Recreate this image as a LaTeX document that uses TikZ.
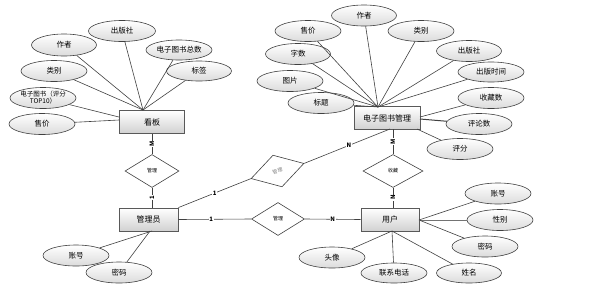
\documentclass[tikz,border=0pt]{standalone}
\usepackage{fontspec}
\setmainfont{Noto Sans CJK SC}
\usetikzlibrary{shapes.geometric}
\begin{document}
\begin{tikzpicture}[x=1pt,y=-1pt,
 attr/.style={ellipse,draw=black!75,line width=0.6pt,top color=white,bottom color=black!14,minimum width=66pt,minimum height=21pt,inner sep=0pt,font=\fontsize{7.5}{8}\selectfont},
 ent/.style={rectangle,draw=black!65,line width=0.9pt,top color=white,bottom color=black!18,minimum height=23pt,inner sep=0pt,font=\fontsize{8}{9}\selectfont},
 rel/.style={diamond,draw=black!75,line width=0.6pt,fill=white,inner sep=0pt,font=\fontsize{5}{6}\selectfont},
 lnk/.style={draw=black!75,line width=0.6pt},
 card/.style={fill=white,inner sep=0.6pt,font=\fontsize{6}{6}\selectfont\bfseries},
]
\useasboundingbox (0,0) rectangle (607,287);
% entities
\node[ent,minimum width=65pt] (kb) at (152,122) {看板};
\node[ent,minimum width=66pt] (bm) at (387,118) {电子图书管理};
\node[ent,minimum width=59pt] (adm) at (148.5,219.5) {管理员};
\node[ent,minimum width=58pt] (usr) at (390,219.5) {用户};
% relations
\node[rel,minimum width=54pt,minimum height=33pt] (r1) at (152,171) {管理};
\node[rel,minimum width=55pt,minimum height=33pt,rotate=16,text=black!50] (r2) at (277.5,171) {管理};
\node[rel,minimum width=53pt,minimum height=33pt] (r3) at (278,219) {管理};
\node[rel,minimum width=60pt,minimum height=33pt] (r4) at (393,171) {收藏};
% convergence points
\coordinate (kbt) at (143,110);
\coordinate (kbl1) at (119,117);
\coordinate (kbl2) at (119,120);
\coordinate (bmt) at (378,107);
\coordinate (bmr1) at (420,117);
\coordinate (bmr2) at (420,119);
\coordinate (bmr3) at (417,129);
\coordinate (bmb) at (390,129);
\coordinate (bmb2) at (393,129);
\coordinate (usr1) at (419,220);
\coordinate (usb) at (392,231);
\coordinate (adb1) at (152,231);
\coordinate (adb2) at (150,231);
\coordinate (r1b) at (152,208);
% kanban attributes
\node[attr,minimum width=65pt,minimum height=22pt] (k1) at (64,45) {作者};
\node[attr,minimum width=67pt] (k2) at (122,31) {出版社};
\node[attr,minimum height=20pt] (k3) at (179,50) {电子图书总数};
\node[attr,minimum width=65pt,minimum height=20pt] (k4) at (199,71) {标签};
\node[attr] (k5) at (54,71) {类别};
\node[attr,align=center,font=\fontsize{6.5}{7}\selectfont] (k6) at (43,98) {电子图书（评分\\TOP10）};
\node[attr] (k7) at (42,124) {售价};
% book management attributes
\node[attr] (b1) at (308,31) {售价};
\node[attr,minimum width=65pt] (b2) at (364,15.5) {作者};
\node[attr] (b3) at (421,31) {类别};
\node[attr,minimum width=65pt] (b4) at (298,54) {字数};
\node[attr,minimum width=65pt] (b5) at (469,51) {出版社};
\node[attr,minimum height=20pt] (b6) at (491,72) {出版时间};
\node[attr] (b7) at (290,81) {图片};
\node[attr] (b8) at (321,103) {标题};
\node[attr] (b9) at (491,98) {收藏数};
\node[attr] (b10) at (479,124) {评论数};
\node[attr] (b11) at (460,149) {评分};
% user attributes
\node[attr] (u1) at (498,193.5) {账号};
\node[attr] (u2) at (500,220) {性别};
\node[attr] (u3) at (485,246.5) {密码};
\node[attr,minimum width=65pt,minimum height=20pt] (u4) at (469,273) {姓名};
\node[attr,minimum height=20pt] (u5) at (394,273) {联系电话};
\node[attr] (u6) at (332,257.5) {头像};
% admin attributes
\node[attr] (a1) at (76,255.5) {账号};
\node[attr] (a2) at (119,272.5) {密码};
% attribute links
\foreach \e in {k1,k2,k3,k4,k5} \draw[lnk] (\e) -- (kbt);
\draw[lnk] (k6) -- (kbl1);
\draw[lnk] (k7) -- (kbl2);
\foreach \e in {b1,b2,b3,b4,b5,b6,b7,b8} \draw[lnk] (\e) -- (bmt);
\draw[lnk] (b9) -- (bmr1);
\draw[lnk,line width=1pt] (b10) -- (bmr2);
\draw[lnk] (b11) -- (bmr3);
\draw[lnk] (u1) -- (usr1);
\draw[lnk,line width=1pt,draw=black!55] (u2) -- (usr1);
\draw[lnk] (u3) -- (usr1);
\foreach \e in {u4,u5,u6} \draw[lnk] (\e) -- (usb);
\draw[lnk] (a1) -- (adb1);
\draw[lnk] (a2) -- (adb2);
% relationship links
\draw[lnk] (kb.south) -- node[card,rotate=90]{M} (r1.north);
\draw[lnk] (r1.south) -- node[card,rotate=90]{1} (r1b);
\draw[lnk] (adm.east) -- node[card,pos=0.45]{1} (r3.west);
\draw[lnk] (r3.east) -- node[card,pos=0.5]{N} (usr.west);
\draw[lnk] (adm.north east) -- node[card,pos=0.5]{1} (r2.west);
\draw[lnk] (r2.east) -- node[card,pos=0.52]{N} (bmb);
\draw[lnk] (bmb2) -- node[card,rotate=90]{M} (r4.north);
\draw[lnk] (r4.south) -- node[card,rotate=90]{N} (usr.north -| r4.south);
\end{tikzpicture}
\end{document}
